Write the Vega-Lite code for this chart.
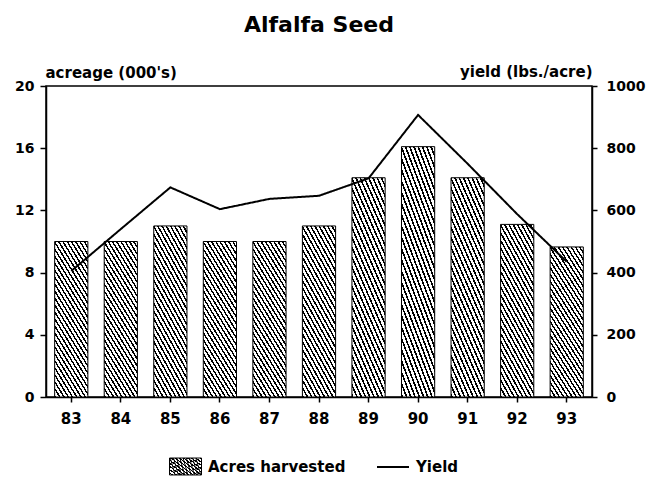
{
  "$schema": "https://vega.github.io/schema/vega-lite/v6.json",
  "width": 546,
  "height": 311,
  "autosize": "none",
  "padding": {"left": 46, "top": 86, "right": 58, "bottom": 80},
  "background": "white",
  "title": {
    "text": "Alfalfa Seed",
    "font": "DejaVu Sans",
    "fontSize": 22,
    "fontWeight": "bold",
    "color": "black",
    "anchor": "middle",
    "dy": -23
  },
  "data": {
    "values": [
      {"year": "83", "acreage": 10.0, "yield": 405},
      {"year": "84", "acreage": 10.0, "yield": 540},
      {"year": "85", "acreage": 11.0, "yield": 674},
      {"year": "86", "acreage": 10.0, "yield": 604},
      {"year": "87", "acreage": 10.0, "yield": 637},
      {"year": "88", "acreage": 11.0, "yield": 647},
      {"year": "89", "acreage": 14.1, "yield": 703},
      {"year": "90", "acreage": 16.1, "yield": 907},
      {"year": "91", "acreage": 14.1, "yield": 750},
      {"year": "92", "acreage": 11.1, "yield": 588},
      {"year": "93", "acreage": 9.65, "yield": 435}
    ]
  },
  "layer": [
    {
      "mark": {
        "type": "bar",
        "strokeWidth": 1,
        "fill": {
          "gradient": "linear",
          "x1": 0, "y1": 1, "x2": 0.42, "y2": -0.2,
          "stops": [
            {"offset": 0, "color": "black"}, {"offset": 0.0133, "color": "black"}, {"offset": 0.0133, "color": "white"}, {"offset": 0.0333, "color": "white"},
            {"offset": 0.0333, "color": "black"}, {"offset": 0.0467, "color": "black"}, {"offset": 0.0467, "color": "white"}, {"offset": 0.0667, "color": "white"},
            {"offset": 0.0667, "color": "black"}, {"offset": 0.08, "color": "black"}, {"offset": 0.08, "color": "white"}, {"offset": 0.1, "color": "white"},
            {"offset": 0.1, "color": "black"}, {"offset": 0.1133, "color": "black"}, {"offset": 0.1133, "color": "white"}, {"offset": 0.1333, "color": "white"},
            {"offset": 0.1333, "color": "black"}, {"offset": 0.1467, "color": "black"}, {"offset": 0.1467, "color": "white"}, {"offset": 0.1667, "color": "white"},
            {"offset": 0.1667, "color": "black"}, {"offset": 0.18, "color": "black"}, {"offset": 0.18, "color": "white"}, {"offset": 0.2, "color": "white"},
            {"offset": 0.2, "color": "black"}, {"offset": 0.2133, "color": "black"}, {"offset": 0.2133, "color": "white"}, {"offset": 0.2333, "color": "white"},
            {"offset": 0.2333, "color": "black"}, {"offset": 0.2467, "color": "black"}, {"offset": 0.2467, "color": "white"}, {"offset": 0.2667, "color": "white"},
            {"offset": 0.2667, "color": "black"}, {"offset": 0.28, "color": "black"}, {"offset": 0.28, "color": "white"}, {"offset": 0.3, "color": "white"},
            {"offset": 0.3, "color": "black"}, {"offset": 0.3133, "color": "black"}, {"offset": 0.3133, "color": "white"}, {"offset": 0.3333, "color": "white"},
            {"offset": 0.3333, "color": "black"}, {"offset": 0.3467, "color": "black"}, {"offset": 0.3467, "color": "white"}, {"offset": 0.3667, "color": "white"},
            {"offset": 0.3667, "color": "black"}, {"offset": 0.38, "color": "black"}, {"offset": 0.38, "color": "white"}, {"offset": 0.4, "color": "white"},
            {"offset": 0.4, "color": "black"}, {"offset": 0.4133, "color": "black"}, {"offset": 0.4133, "color": "white"}, {"offset": 0.4333, "color": "white"},
            {"offset": 0.4333, "color": "black"}, {"offset": 0.4467, "color": "black"}, {"offset": 0.4467, "color": "white"}, {"offset": 0.4667, "color": "white"},
            {"offset": 0.4667, "color": "black"}, {"offset": 0.48, "color": "black"}, {"offset": 0.48, "color": "white"}, {"offset": 0.5, "color": "white"},
            {"offset": 0.5, "color": "black"}, {"offset": 0.5133, "color": "black"}, {"offset": 0.5133, "color": "white"}, {"offset": 0.5333, "color": "white"},
            {"offset": 0.5333, "color": "black"}, {"offset": 0.5467, "color": "black"}, {"offset": 0.5467, "color": "white"}, {"offset": 0.5667, "color": "white"},
            {"offset": 0.5667, "color": "black"}, {"offset": 0.58, "color": "black"}, {"offset": 0.58, "color": "white"}, {"offset": 0.6, "color": "white"},
            {"offset": 0.6, "color": "black"}, {"offset": 0.6133, "color": "black"}, {"offset": 0.6133, "color": "white"}, {"offset": 0.6333, "color": "white"},
            {"offset": 0.6333, "color": "black"}, {"offset": 0.6467, "color": "black"}, {"offset": 0.6467, "color": "white"}, {"offset": 0.6667, "color": "white"},
            {"offset": 0.6667, "color": "black"}, {"offset": 0.68, "color": "black"}, {"offset": 0.68, "color": "white"}, {"offset": 0.7, "color": "white"},
            {"offset": 0.7, "color": "black"}, {"offset": 0.7133, "color": "black"}, {"offset": 0.7133, "color": "white"}, {"offset": 0.7333, "color": "white"},
            {"offset": 0.7333, "color": "black"}, {"offset": 0.7467, "color": "black"}, {"offset": 0.7467, "color": "white"}, {"offset": 0.7667, "color": "white"},
            {"offset": 0.7667, "color": "black"}, {"offset": 0.78, "color": "black"}, {"offset": 0.78, "color": "white"}, {"offset": 0.8, "color": "white"},
            {"offset": 0.8, "color": "black"}, {"offset": 0.8133, "color": "black"}, {"offset": 0.8133, "color": "white"}, {"offset": 0.8333, "color": "white"},
            {"offset": 0.8333, "color": "black"}, {"offset": 0.8467, "color": "black"}, {"offset": 0.8467, "color": "white"}, {"offset": 0.8667, "color": "white"},
            {"offset": 0.8667, "color": "black"}, {"offset": 0.88, "color": "black"}, {"offset": 0.88, "color": "white"}, {"offset": 0.9, "color": "white"},
            {"offset": 0.9, "color": "black"}, {"offset": 0.9133, "color": "black"}, {"offset": 0.9133, "color": "white"}, {"offset": 0.9333, "color": "white"},
            {"offset": 0.9333, "color": "black"}, {"offset": 0.9467, "color": "black"}, {"offset": 0.9467, "color": "white"}, {"offset": 0.9667, "color": "white"},
            {"offset": 0.9667, "color": "black"}, {"offset": 0.98, "color": "black"}, {"offset": 0.98, "color": "white"}, {"offset": 1, "color": "white"}
          ]
        }
      },
      "encoding": {
        "x": {
          "field": "year",
          "type": "ordinal",
          "scale": {"paddingInner": 0.33, "paddingOuter": 0.175},
          "axis": {
            "title": null,
            "labelAngle": 0,
            "labelFontSize": 15,
            "tickSize": 5,
            "labelPadding": 9
          }
        },
        "y": {
          "field": "acreage",
          "type": "quantitative",
          "scale": {"domain": [0, 20], "nice": false},
          "axis": {
            "orient": "left",
            "values": [0, 4, 8, 12, 16, 20],
            "title": "acreage (000's)",
            "titleAngle": 0,
            "titleAlign": "left",
            "titleBaseline": "alphabetic",
            "titleX": -1,
            "titleY": -9,
            "tickSize": 6,
            "labelPadding": 6
          }
        },
        "stroke": {
          "datum": "Acres harvested",
          "type": "nominal",
          "scale": {"domain": ["Acres harvested"], "range": ["black"]},
          "legend": {
            "orient": "none",
            "legendX": 123,
            "legendY": 364,
            "title": null,
            "symbolSize": 1024,
            "symbolType": "M-1,-0.53H1V0.53H-1Z M-0.95,-0.53L-0.65,0.53 M-0.75,-0.53L-0.45,0.53 M-0.55,-0.53L-0.25,0.53 M-0.35,-0.53L-0.05,0.53 M-0.15,-0.53L0.15,0.53 M0.05,-0.53L0.35,0.53 M0.25,-0.53L0.55,0.53 M0.45,-0.53L0.75,0.53 M0.65,-0.53L0.95,0.53",
            "symbolFillColor": "transparent",
            "symbolStrokeColor": "black",
            "symbolStrokeWidth": 1,
            "labelFont": "DejaVu Sans",
            "labelFontWeight": "bold",
            "labelFontSize": 15,
            "labelColor": "black",
            "labelOffset": 6,
            "encode": {"symbols": {"fill": {"value": "transparent"}}}
          }
        }
      }
    },
    {
      "mark": {"type": "line", "strokeWidth": 2, "stroke": "black"},
      "encoding": {
        "x": {"field": "year", "type": "ordinal"},
        "y": {
          "field": "yield",
          "type": "quantitative",
          "scale": {"domain": [0, 1000], "nice": false},
          "axis": {
            "orient": "right",
            "values": [0, 200, 400, 600, 800, 1000],
            "format": "d",
            "title": "yield (lbs./acre)",
            "titleAngle": 0,
            "titleAlign": "right",
            "titleBaseline": "alphabetic",
            "titleX": 0,
            "titleY": -10,
            "tickSize": 5,
            "labelPadding": 9
          }
        },
        "strokeDash": {
          "datum": "Yield",
          "type": "nominal",
          "scale": {"domain": ["Yield"], "range": [[1, 0]]},
          "legend": {
            "orient": "none",
            "legendX": 330,
            "legendY": 364,
            "title": null,
            "symbolSize": 1024,
            "symbolType": "stroke",
            "symbolStrokeColor": "black",
            "symbolStrokeWidth": 2,
            "labelFont": "DejaVu Sans",
            "labelFontWeight": "bold",
            "labelFontSize": 15,
            "labelColor": "black",
            "labelOffset": 6
          }
        }
      }
    }
  ],
  "resolve": {"scale": {"y": "independent"}},
  "config": {
    "view": {"stroke": "black", "strokeWidth": 1.5},
    "axis": {
      "grid": false,
      "domainColor": "black",
      "domainWidth": 1.5,
      "tickColor": "black",
      "tickWidth": 1.5,
      "labelFont": "DejaVu Sans",
      "labelFontWeight": "bold",
      "labelFontSize": 14,
      "labelColor": "black",
      "titleFont": "DejaVu Sans",
      "titleFontWeight": "bold",
      "titleFontSize": 15,
      "titleColor": "black"
    }
  }
}
